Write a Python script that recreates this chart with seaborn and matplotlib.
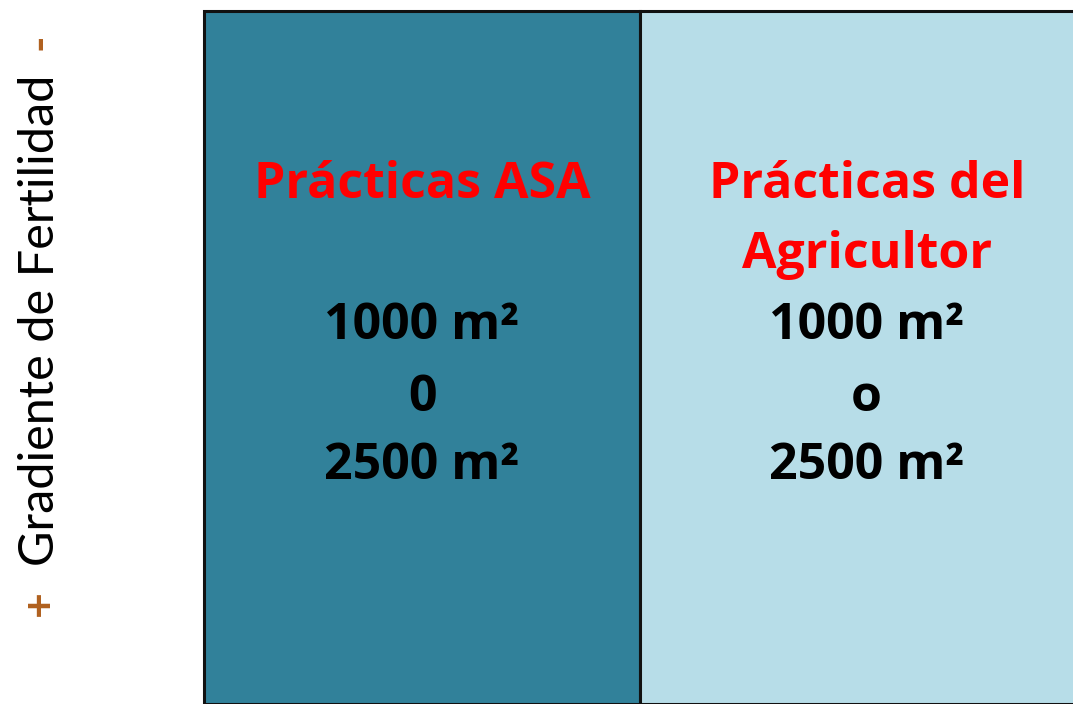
import matplotlib
matplotlib.use("Agg")
import matplotlib.pyplot as plt
import seaborn as sns
import pandas as pd

# ---- data ----
practices = ["Prácticas ASA", "Prácticas del\nAgricultor"]
plot_height = [1.0, 1.0]
area_lines = [["1000 m²", "0", "2500 m²"], ["1000 m²", "o", "2500 m²"]]
bar_colors = ["#31819a", "#b7dde8"]
axis_label = "Gradiente de Fertilidad"

sns.set_theme(style="white")
plt.rcParams["font.family"] = ["Open Sans", "DejaVu Sans"]

W, H = 1073, 704
fig = plt.figure(figsize=(W / 100, H / 100), dpi=100)
fig.patch.set_facecolor("white")
left_px, top_px = 204, 11
ax = fig.add_axes([left_px / W, 0, 1 - left_px / W, (H - top_px) / H])

df = pd.DataFrame({"practice": practices, "h": plot_height})
sns.barplot(data=df, x="practice", y="h", hue="practice", palette=bar_colors,
            width=1.0, legend=False, ax=ax, edgecolor="#111111", linewidth=2.2,
            saturation=1)
for p in ax.patches:
    p.set_clip_on(False)

ax.set_xlim(-0.5, 1.5 - 3 / 436)
ax.set_ylim(0, 1)
ax.axis("off")

def ypx(y):
    return 1 - (y - top_px) / (H - top_px)

FS = 36
# headings
ax.text(0.0, ypx(185), practices[0], ha="center", va="center",
        color="#ff0000", fontsize=FS, fontweight="bold")
head2 = practices[1].split("\n")
ax.text(1.02, ypx(185), head2[0], ha="center", va="center",
        color="#ff0000", fontsize=FS, fontweight="bold")
ax.text(1.02, ypx(255), head2[1], ha="center", va="center",
        color="#ff0000", fontsize=FS, fontweight="bold")

for i, lines in enumerate(area_lines):
    xc = 0.0 if i == 0 else 1.02
    for ln, yy in zip(lines, [326, 398, 466]):
        ax.text(xc, ypx(yy), ln, ha="center", va="center", color="black",
                fontsize=FS, fontweight="bold")

# vertical gradient label
xl = 40 / W
fig.text(xl, 1 - 603 / H, "+", rotation=90, ha="center", va="center",
         color="#b0601e", fontsize=32, fontweight="bold", family="Lato")
fig.text(xl, 1 - 320 / H, axis_label, rotation=90, ha="center", va="center",
         color="black", fontsize=35, family="Lato")
fig.text(xl, 1 - 42 / H, "-", rotation=90, ha="center", va="center",
         color="#b0601e", fontsize=32, fontweight="bold", family="Lato")

fig.savefig("out.png", dpi=100, facecolor="white")
